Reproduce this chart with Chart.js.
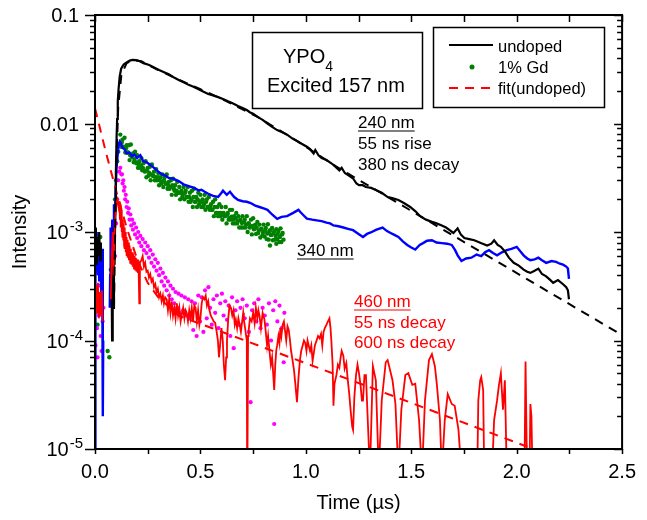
<!DOCTYPE html>
<html><head><meta charset="utf-8">
<script src="https://cdn.jsdelivr.net/npm/chart.js@4.4.0/dist/chart.umd.min.js"></script>
<style>html,body{margin:0;padding:0;background:#fff}</style>
</head><body>
<canvas id="c" width="647" height="520"></canvas>
<script>
// ---------- data (time in µs, intensity) ----------
const xTickValues = [0, 0.5, 1.0, 1.5, 2.0, 2.5];
const xTickLabels = ['0.0', '0.5', '1.0', '1.5', '2.0', '2.5'];
const yTickValues = [1e-5, 1e-4, 1e-3, 0.01, 0.1];
const yTickLabels = ['10^-5', '10^-4', '10^-3', '0.01', '0.1'];

// 240 nm, undoped (black solid)
const undoped240 = [[0,7e-4],[0.004,1.1e-3],[0.008,5e-4],[0.012,9e-4],[0.016,6e-4],[0.020,1.0e-3],[0.024,5.5e-4],[0.028,8e-4],[0.050,null],
[0.078,6e-4],[0.081,1.0e-4],[0.084,8e-4],[0.087,2e-4],[0.090,1.1e-3],[0.093,5e-4],[0.096,1.6e-3],[0.099,3.5e-3],[0.102,7e-3],[0.105,0.011],[0.108,0.016],[0.112,0.021],[0.117,0.027],[0.124,0.032],[0.136,0.035],[0.150,0.0365],[0.165,0.038],[0.178,0.0385],[0.195,0.0384],[0.210,0.0377],[0.230,0.036],[0.257,0.0346],[0.280,0.0328],[0.304,0.0311],[0.325,0.0298],[0.350,0.0284],[0.375,0.0265],[0.397,0.0252],[0.420,0.0240],[0.444,0.0227],[0.467,0.0218],[0.491,0.0207],[0.515,0.0196],[0.537,0.0187],[0.560,0.0181],[0.584,0.0175],[0.607,0.0168],[0.631,0.0160],[0.655,0.0153],[0.678,0.0145],[0.700,0.0139],[0.720,0.0133],[0.734,0.0127],[0.750,0.0123],[0.771,0.0115],[0.795,0.0108],[0.818,0.0100],[0.840,0.0093],[0.864,0.0087],[0.888,0.0083],[0.911,0.0079],[0.935,0.0073],[0.958,0.0069],[0.980,0.0065],[1.005,0.0061],[1.020,0.0058],[1.037,0.0053],[1.045,0.0057],[1.060,0.0051],[1.075,0.0048],[1.098,0.0046],[1.121,0.0043],[1.140,0.0040],[1.159,0.0037],[1.170,0.0039],[1.185,0.0035],[1.206,0.0033],[1.225,0.0031],[1.240,0.0028],[1.252,0.0027],[1.270,0.0027],[1.285,0.0026],[1.310,0.00255],[1.332,0.00244],[1.360,0.0023],[1.388,0.0021],[1.410,0.00205],[1.439,0.00197],[1.465,0.00185],[1.495,0.0017],[1.520,0.00155],[1.542,0.0014],[1.570,0.0013],[1.598,0.00124],[1.620,0.0012],[1.645,0.00115],[1.665,0.0011],[1.682,0.00104],[1.700,0.00098],[1.720,0.00108],[1.735,0.00095],[1.752,0.00088],[1.775,0.00086],[1.799,0.00084],[1.830,0.00079],[1.860,0.00075],[1.880,0.00078],[1.893,0.00084],[1.910,0.00076],[1.925,0.00073],[1.945,0.00066],[1.963,0.00058],[1.986,0.00052],[2.010,0.00049],[2.033,0.00045],[2.050,0.00043],[2.065,0.00042],[2.085,0.00044],[2.103,0.00046],[2.120,0.00041],[2.140,0.00039],[2.160,0.00036],[2.173,0.00034],[2.196,0.00036],[2.220,0.00033],[2.235,0.00031],[2.243,0.00029],[2.248,0.00024]];

// 340 nm (blue solid)
const band340 = [[0,3e-6],[0.002,7e-4],[0.005,1.0e-3],[0.008,5e-4],[0.011,8e-4],[0.014,4e-4],[0.017,9e-4],[0.020,3.5e-4],[0.025,6e-4],[0.030,2.5e-4],[0.034,7e-4],[0.037,2e-5],[0.039,1e-4],[0.050,null],
[0.070,2e-4],[0.072,4e-4],[0.074,1.1e-3],[0.078,6e-4],[0.082,1.3e-3],[0.086,8e-4],[0.090,1.8e-3],[0.094,1.2e-3],[0.098,2.5e-3],[0.102,3.8e-3],[0.107,5e-3],[0.112,6.3e-3],[0.118,6.8e-3],[0.124,6.5e-3],[0.130,6.0e-3],[0.140,5.8e-3],[0.150,5.3e-3],[0.164,5.4e-3],[0.175,5.0e-3],[0.187,5.2e-3],[0.200,4.8e-3],[0.215,5.1e-3],[0.228,4.5e-3],[0.243,4.4e-3],[0.260,4.2e-3],[0.280,3.9e-3],[0.300,3.6e-3],[0.318,3.4e-3],[0.335,3.3e-3],[0.350,3.15e-3],[0.370,3.1e-3],[0.397,2.95e-3],[0.420,2.75e-3],[0.444,2.65e-3],[0.470,2.55e-3],[0.491,2.42e-3],[0.505,2.45e-3],[0.520,2.35e-3],[0.537,2.25e-3],[0.560,2.15e-3],[0.584,2.1e-3],[0.600,2.3e-3],[0.607,2.4e-3],[0.625,2.2e-3],[0.640,2.35e-3],[0.660,2.1e-3],[0.678,1.98e-3],[0.700,1.92e-3],[0.720,1.9e-3],[0.738,1.85e-3],[0.760,1.75e-3],[0.780,1.7e-3],[0.800,1.65e-3],[0.818,1.6e-3],[0.840,1.45e-3],[0.864,1.32e-3],[0.885,1.38e-3],[0.911,1.4e-3],[0.940,1.5e-3],[0.965,1.6e-3],[0.975,1.52e-3],[0.990,1.42e-3],[1.005,1.33e-3],[1.030,1.3e-3],[1.051,1.28e-3],[1.075,1.26e-3],[1.098,1.22e-3],[1.115,1.2e-3],[1.131,1.15e-3],[1.155,1.13e-3],[1.178,1.1e-3],[1.200,1.07e-3],[1.224,1.04e-3],[1.250,9.6e-4],[1.271,9.0e-4],[1.290,9.6e-4],[1.308,9.9e-4],[1.335,1.05e-3],[1.364,1.1e-3],[1.385,1.02e-3],[1.402,9.8e-4],[1.420,9.4e-4],[1.439,9.0e-4],[1.460,8.2e-4],[1.481,7.6e-4],[1.500,7.2e-4],[1.519,6.9e-4],[1.540,7.6e-4],[1.556,7.9e-4],[1.575,8.3e-4],[1.598,8.4e-4],[1.620,8.0e-4],[1.645,7.9e-4],[1.670,7.8e-4],[1.692,7.6e-4],[1.708,6.8e-4],[1.720,6.1e-4],[1.738,5.4e-4],[1.760,5.7e-4],[1.785,5.8e-4],[1.810,6.2e-4],[1.832,6.0e-4],[1.850,6.5e-4],[1.869,6.8e-4],[1.888,6.4e-4],[1.907,6.1e-4],[1.930,6.5e-4],[1.953,6.8e-4],[1.975,7.0e-4],[2.000,7.3e-4],[2.018,6.6e-4],[2.033,6.1e-4],[2.050,5.7e-4],[2.065,5.5e-4],[2.085,5.6e-4],[2.103,5.8e-4],[2.120,5.5e-4],[2.140,5.2e-4],[2.165,5.4e-4],[2.187,5.3e-4],[2.205,5.1e-4],[2.220,5.0e-4],[2.235,4.8e-4],[2.243,4.6e-4],[2.248,3.7e-4]];

// 460 nm (red solid)
const band460 = [[0.003,2.0e-4],[0.006,3.2e-4],[0.010,1.8e-4],[0.014,3.4e-4],[0.018,1.6e-4],[0.023,2.8e-4],[0.028,1.7e-4],[0.033,2.9e-4],[0.036,1.5e-4],[0.050,null],
[0.075,2.4e-4],[0.079,6e-4],[0.084,1.0e-3],[0.088,4e-4],[0.093,1.2e-3],[0.098,1.5e-3],[0.103,1.9e-3],[0.107,2.0e-3],[0.112,1.7e-3],[0.116,1.9e-3],[0.118,1.3e-3],[0.120,1.8e-3],[0.122,1.1e-3],[0.124,1.6e-3],[0.126,1.0e-3],[0.128,1.4e-3],[0.130,9e-4],[0.132,1.3e-3],[0.134,8.5e-4],[0.136,1.2e-3],[0.138,7.5e-4],[0.140,1.1e-3],[0.142,7e-4],[0.144,1.0e-3],[0.146,6.5e-4],[0.148,9e-4],[0.150,6e-4],[0.152,8.5e-4],[0.155,5.8e-4],[0.158,8e-4],[0.161,5.5e-4],[0.164,7.5e-4],[0.167,5.2e-4],[0.170,7e-4],[0.173,5e-4],[0.176,6.5e-4],[0.179,4.8e-4],[0.182,6.3e-4],[0.185,4.6e-4],[0.188,6e-4],[0.191,4.5e-4],[0.194,5.8e-4],[0.197,4.3e-4],[0.200,5.6e-4],[0.203,4.2e-4],[0.206,5.5e-4],[0.210,2.2e-4],[0.213,5.2e-4],[0.220,5.5e-4],[0.226,6.0e-4],[0.232,4.8e-4],[0.238,5.2e-4],[0.244,4.3e-4],[0.250,4.4e-4],[0.256,3.8e-4],[0.262,4.1e-4],[0.268,3.5e-4],[0.274,3.7e-4],[0.280,3.1e-4],[0.286,3.3e-4],[0.292,2.8e-4],[0.298,3.0e-4],[0.304,2.5e-4],[0.310,2.7e-4],[0.316,2.3e-4],[0.322,2.6e-4],[0.327,2.2e-4],[0.333,2.5e-4],[0.340,2.4e-4],[0.346,1.9e-4],[0.352,2.4e-4],[0.358,1.8e-4],[0.364,2.3e-4],[0.370,1.7e-4],[0.376,2.0e-4],[0.382,1.6e-4],[0.388,2.2e-4],[0.394,1.7e-4],[0.400,2.0e-4],[0.406,1.5e-4],[0.411,1.7e-4],[0.418,2.0e-4],[0.424,1.6e-4],[0.430,1.9e-4],[0.435,1.8e-4],[0.441,1.5e-4],[0.447,1.9e-4],[0.453,1.6e-4],[0.459,2.0e-4],[0.465,1.5e-4],[0.471,2.1e-4],[0.477,2.0e-4],[0.483,1.5e-4],[0.489,1.9e-4],[0.495,1.4e-4],[0.500,1.6e-4],[0.506,2.2e-4],[0.512,2.5e-4],[0.519,2.4e-4],[0.525,2.6e-4],[0.531,2.1e-4],[0.537,2.3e-4],[0.543,1.9e-4],[0.549,1.7e-4],[0.556,1.6e-4],[0.563,1.5e-4],[0.570,1.45e-4],[0.577,1.2e-4],[0.583,1.0e-4],[0.588,7e-5],[0.593,8.9e-5],[0.600,1.3e-4],[0.606,1.0e-4],[0.611,6e-5],[0.617,4.3e-5],[0.622,7e-5],[0.626,1.0e-4],[0.632,1.6e-4],[0.638,2.1e-4],[0.645,2.0e-4],[0.651,1.7e-4],[0.657,1.9e-4],[0.663,1.4e-4],[0.668,1.55e-4],[0.674,1.3e-4],[0.680,1.6e-4],[0.686,1.4e-4],[0.692,1.2e-4],[0.698,1.5e-4],[0.703,1.8e-4],[0.706,1.55e-4],[0.712,1.3e-4],[0.717,1.1e-4],[0.720,1.0e-4],[0.722,3e-6],[0.726,1.1e-4],[0.729,1.25e-4],[0.735,1.6e-4],[0.743,1.5e-4],[0.750,1.8e-4],[0.757,1.45e-4],[0.763,2.0e-4],[0.770,1.6e-4],[0.775,1.9e-4],[0.780,1.7e-4],[0.787,1.3e-4],[0.795,1.8e-4],[0.804,1.55e-4],[0.810,1.2e-4],[0.816,9e-5],[0.821,1.1e-4],[0.827,8.2e-5],[0.834,6e-5],[0.840,7e-5],[0.845,5e-5],[0.850,3.5e-5],[0.855,6e-5],[0.860,8.2e-5],[0.864,9e-5],[0.870,1.1e-4],[0.875,9.5e-5],[0.879,1.3e-4],[0.884,1.1e-4],[0.890,1.4e-4],[0.896,1.5e-4],[0.902,1.2e-4],[0.907,1.0e-4],[0.913,1.35e-4],[0.919,1.25e-4],[0.925,1.0e-4],[0.930,8e-5],[0.935,7e-5],[0.944,5.3e-5],[0.950,4e-5],[0.958,2.7e-5],[0.965,4.5e-5],[0.972,6.6e-5],[0.978,8e-5],[0.985,9e-5],[0.991,1.0e-4],[0.997,9.5e-5],[1.003,8e-5],[1.008,1.0e-4],[1.014,8.9e-5],[1.020,8e-5],[1.026,9e-5],[1.032,6.5e-5],[1.037,7.5e-5],[1.043,9e-5],[1.051,1.0e-4],[1.058,1.1e-4],[1.065,1.05e-4],[1.072,1.15e-4],[1.078,9e-5],[1.084,1.2e-4],[1.090,1.3e-4],[1.098,1.4e-4],[1.105,1.5e-4],[1.112,1.6e-4],[1.117,1.3e-4],[1.121,1.0e-4],[1.127,6e-5],[1.131,2.5e-5],[1.136,4e-5],[1.145,4.8e-5],[1.152,6e-5],[1.159,5.6e-5],[1.165,7e-5],[1.170,8e-5],[1.178,7.2e-5],[1.184,5.5e-5],[1.192,6.2e-5],[1.198,4.5e-5],[1.206,3.2e-5],[1.213,2.2e-5],[1.220,1.6e-5],[1.224,1.5e-5],[1.230,3e-5],[1.238,4.8e-5],[1.245,6e-5],[1.252,5.0e-5],[1.260,3.8e-5],[1.266,2.8e-5],[1.271,2.8e-5],[1.278,4.8e-5],[1.285,4.8e-5],[1.304,6e-6],[1.318,5.8e-5],[1.332,4.3e-5],[1.346,6e-6],[1.360,2.8e-5],[1.379,6.3e-5],[1.388,6.6e-5],[1.411,4.3e-5],[1.425,2.6e-5],[1.439,6e-6],[1.453,2.3e-5],[1.472,4.8e-5],[1.486,5.0e-5],[1.505,3.9e-5],[1.519,4.0e-5],[1.537,1.85e-5],[1.551,6e-6],[1.565,2.8e-5],[1.584,6.6e-5],[1.598,7.5e-5],[1.612,5.8e-5],[1.621,4.0e-5],[1.636,1.85e-5],[1.645,6e-6],[1.659,1.85e-5],[1.673,3.2e-5],[1.692,2.6e-5],[1.706,2.5e-5],[1.724,1.5e-5],[1.738,6e-6],[1.813,6e-6],[1.818,2.8e-5],[1.827,4.3e-5],[1.832,4.6e-5],[1.841,3.5e-5],[1.846,6e-6],[1.883,6e-6],[1.893,1.85e-5],[1.907,2.8e-5],[1.916,3.9e-5],[1.925,5.0e-5],[1.935,2.3e-5],[1.944,4.3e-5],[1.953,6e-6],[2.037,6e-6],[2.042,6.4e-5],[2.047,1.2e-5],[2.051,6e-6],[2.061,6e-6],[2.065,2.6e-5],[2.070,2.0e-5],[2.075,6e-6]];

// 1% Gd (green dots)
const gd1 = [[0.005,2.2e-4],[0.010,5.5e-4],[0.012,1.4e-4],[0.015,8e-4],[0.020,6.5e-4],[0.022,4.5e-4],[0.025,9e-4],[0.030,2.0e-4],[0.060,8e-5],[0.068,7e-5],[0.075,4.5e-4],[0.080,3.5e-4],[0.085,5e-4],[0.090,1.1e-3],[0.095,2.0e-3],[0.100,3.0e-3],[0.105,4.5e-3],[0.110,5.5e-3],[0.115,6.5e-3],
[0.120,0.0079],[0.124,0.0061],[0.130,0.0071],[0.134,0.0061],[0.140,0.0074],[0.144,0.0054],[0.150,0.0063],[0.154,0.0054],[0.160,0.0063],[0.164,0.0046],[0.170,0.0064],[0.174,0.0050],[0.180,0.0053],[0.184,0.0044],[0.190,0.0055],[0.194,0.0044],[0.200,0.0051],[0.204,0.0039],[0.210,0.0045],[0.214,0.0039],[0.220,0.0048],[0.224,0.0037],[0.230,0.0043],[0.234,0.0037],[0.240,0.0045],[0.244,0.0032],[0.250,0.0039],[0.254,0.0033],[0.260,0.0040],[0.264,0.0030],[0.270,0.0042],[0.274,0.0033],[0.280,0.0036],[0.284,0.0030],[0.290,0.0038],[0.294,0.0030],[0.300,0.0035],[0.304,0.0027],[0.310,0.0032],[0.314,0.0028],[0.320,0.0034],[0.324,0.0026],[0.330,0.0032],[0.334,0.0028],[0.340,0.0034],[0.344,0.0025],[0.350,0.0029],[0.354,0.0025],[0.360,0.0030],[0.364,0.0022],[0.370,0.0031],[0.374,0.0025],[0.380,0.0027],[0.384,0.0022],[0.390,0.0029],[0.394,0.0023],[0.400,0.0026],[0.404,0.0020],[0.410,0.0024],[0.414,0.0021],[0.420,0.0026],[0.424,0.0020],[0.430,0.0024],[0.434,0.0021],[0.440,0.0026],[0.444,0.0019],[0.450,0.0023],[0.454,0.0019],[0.460,0.0024],[0.464,0.0017],[0.470,0.0025],[0.474,0.0019],[0.480,0.0021],[0.484,0.0017],[0.490,0.0023],[0.494,0.0018],[0.500,0.0022],[0.504,0.0017],[0.510,0.0020],[0.514,0.0017],[0.520,0.0022],[0.524,0.0016],[0.530,0.0020],[0.534,0.0017],[0.540,0.0021],[0.544,0.0016],[0.550,0.0018],[0.554,0.0016],[0.560,0.0019],[0.564,0.0014],[0.570,0.0020],[0.574,0.0015],[0.580,0.0017],[0.584,0.0014],[0.590,0.0018],[0.594,0.0014],[0.600,0.0017],[0.604,0.0013],[0.610,0.0015],[0.614,0.0014],[0.620,0.0017],[0.624,0.0012],[0.630,0.0015],[0.634,0.0013],[0.640,0.0016],[0.644,0.0013],[0.650,0.0016],[0.654,0.0012],[0.660,0.0014],[0.664,0.0012],[0.670,0.0015],[0.674,0.0012],[0.680,0.0014],[0.684,0.0011],[0.690,0.0013],[0.694,0.0011],[0.700,0.0014],[0.704,0.0011],[0.710,0.0013],[0.714,0.0011],[0.720,0.0014],[0.724,0.0010],[0.730,0.0012],[0.734,0.0011],[0.740,0.0013],[0.744,0.00095],[0.750,0.00134],[0.754,0.00106],[0.760,0.00117],[0.764,0.00096],[0.770,0.00124],[0.774,0.00098],[0.780,0.00117],[0.784,0.00089],[0.790,0.00107],[0.794,0.00093],[0.800,0.00117],[0.804,0.00091],[0.810,0.00109],[0.814,0.00086],[0.820,0.00118],[0.824,0.00085],[0.830,0.00104],[0.834,0.00094],[0.840,0.00109],[0.844,0.00084],[0.850,0.00101],[0.854,0.00085],[0.860,0.00106],[0.864,0.00086],[0.870,0.00102],[0.874,0.00081],[0.880,0.00108],[0.884,0.00081],[0.890,0.00098],[0.894,0.00085],[0.830,0.00075],[0.860,0.00078],
[0.127,0.0067],[0.137,0.0060],[0.147,0.0059],[0.157,0.0054],[0.167,0.0051],[0.177,0.0049],[0.187,0.0047],[0.197,0.0043],[0.207,0.0042],[0.217,0.0041],[0.227,0.0039],[0.237,0.0036],[0.247,0.0037],[0.257,0.0035],[0.267,0.0034],[0.277,0.0033],[0.287,0.0032],[0.297,0.0032],[0.307,0.0030],[0.317,0.0029],[0.327,0.0030],[0.337,0.0028],[0.347,0.0027],[0.357,0.0026],[0.367,0.0027],[0.377,0.0024],[0.387,0.0024],[0.397,0.0023],[0.407,0.0023],[0.417,0.0022],[0.427,0.0023],[0.437,0.0021],[0.447,0.0021],[0.457,0.0020],[0.467,0.0021],[0.477,0.0019],[0.487,0.0020],[0.497,0.0019],[0.507,0.0019],[0.517,0.0018],[0.527,0.0019],[0.537,0.0017],[0.547,0.0017],[0.557,0.0016],[0.567,0.0017],[0.577,0.0015],[0.587,0.0015],[0.597,0.0015],[0.607,0.00145],[0.617,0.0014],[0.627,0.00145],[0.637,0.00135],[0.647,0.00138],[0.657,0.0013],[0.667,0.00134],[0.677,0.00126],[0.687,0.00128],[0.697,0.00121],[0.707,0.00124],[0.717,0.00117],[0.727,0.0012],[0.737,0.00112],[0.747,0.00114],[0.757,0.00107],[0.767,0.0011],[0.777,0.00103],[0.787,0.00106],[0.797,0.00099],[0.807,0.00103],[0.817,0.00097],[0.827,0.00101],[0.837,0.00094],[0.847,0.00098],[0.857,0.00092],[0.867,0.00096],[0.877,0.0009],[0.887,0.00095]];

// 460 nm second set (magenta dots)
const dots460 = [[0.002,9e-5],[0.006,2.3e-4],[0.009,1.3e-4],[0.012,7e-5],[0.016,3.2e-4],[0.019,1.7e-4],[0.023,2.6e-4],[0.027,1.1e-4],[0.031,8e-5],[0.036,1.5e-4],[0.040,2.0e-4],
[0.085,3.0e-4],[0.095,6e-4],[0.100,1.2e-3],[0.105,2.0e-3],[0.110,3.0e-3],[0.115,3.6e-3],[0.120,3.9e-3],[0.125,3.4e-3],
[0.128,3.4e-3],[0.131,2.8e-3],[0.134,3.0e-3],[0.137,2.4e-3],[0.140,2.6e-3],[0.143,2.0e-3],[0.146,2.2e-3],[0.150,1.7e-3],[0.153,1.9e-3],[0.157,1.5e-3],[0.160,1.65e-3],[0.164,1.3e-3],[0.168,1.45e-3],[0.172,1.15e-3],[0.176,1.3e-3],[0.180,1.05e-3],[0.185,1.2e-3],[0.190,9.5e-4],[0.195,1.1e-3],[0.200,8.8e-4],[0.205,1.0e-3],[0.210,8.0e-4],[0.215,9.2e-4],[0.220,7.4e-4],[0.226,8.6e-4],[0.232,6.8e-4],[0.238,8.0e-4],[0.244,6.4e-4],[0.250,7.4e-4],[0.256,5.8e-4],[0.262,6.8e-4],[0.268,5.2e-4],[0.274,6.2e-4],[0.280,4.8e-4],[0.286,5.6e-4],[0.292,4.4e-4],[0.298,5.2e-4],[0.304,4.0e-4],[0.310,4.6e-4],[0.316,3.5e-4],[0.322,4.2e-4],[0.328,3.2e-4],[0.334,3.8e-4],[0.340,2.9e-4],[0.346,3.5e-4],[0.352,2.6e-4],[0.358,3.2e-4],[0.364,2.4e-4],[0.370,3.0e-4],[0.376,2.2e-4],[0.382,2.8e-4],[0.390,2.0e-4],[0.396,2.7e-4],[0.402,1.8e-4],[0.410,2.6e-4],[0.418,1.9e-4],[0.426,2.5e-4],[0.434,1.7e-4],[0.442,2.4e-4],[0.450,1.6e-4],[0.458,2.3e-4],[0.466,1.25e-4],[0.474,2.2e-4],[0.482,1.1e-4],[0.490,2.6e-4],[0.498,1.5e-4],[0.506,2.5e-4],[0.514,1.2e-4],[0.522,2.9e-4],[0.530,1.6e-4],[0.538,3.1e-4],[0.546,2.0e-4],[0.554,1.4e-4],[0.562,2.4e-4],[0.570,1.8e-4],[0.578,2.6e-4],[0.586,1.3e-4],[0.594,2.2e-4],[0.602,2.7e-4],[0.610,1.7e-4],[0.618,2.3e-4],[0.626,1.55e-4],[0.634,2.1e-4],[0.642,1.1e-4],[0.650,2.5e-4],[0.658,8.5e-5],[0.666,1.9e-4],[0.674,2.3e-4],[0.682,1.4e-4],[0.690,2.0e-4],[0.700,2.4e-4],[0.710,1.6e-4],[0.720,2.1e-4],[0.730,1.2e-4],[0.738,2.7e-5],[0.745,1.9e-4],[0.755,2.2e-4],[0.765,1.5e-4],[0.775,2.4e-4],[0.785,1.3e-4],[0.795,2.0e-4],[0.805,1.7e-4],[0.815,1.4e-4],[0.825,2.2e-4],[0.835,1.0e-4],[0.845,1.9e-4],[0.850,1.7e-5],[0.855,2.3e-4],[0.865,1.5e-4],[0.875,2.1e-4],[0.885,1.3e-4],[0.895,6.3e-5],[0.898,1.8e-4]];

// fits (dashed)
const fitUndopedTime = [0.090, 0.100, 0.110, 0.125, 0.150, 0.180, 0.220, 0.300, 0.400, 0.500, 0.584, 0.771, 0.958, 1.145, 1.332, 2.500];
const fitUndopedIntensity = [2e-4, 3.5e-3, 0.014, 0.028, 0.036, 0.0385, 0.0375, 0.0311, 0.0252, 0.0207, 0.0175, 0.0115, 0.0069, 0.0040, 0.00244, 1.12e-4];
const fit460Time = [0, 0.05, 0.10, 0.15, 0.20, 0.25, 0.30, 0.40, 0.55, 1.33, 2.05];
const fit460Intensity = [0.0138, 0.0056, 0.0024, 0.0011, 5.6e-4, 3.4e-4, 2.5e-4, 1.68e-4, 1.31e-4, 3.55e-5, 1.05e-5];

// ---------- chart ----------
const FONT = '"Liberation Sans", Arial, Helvetica, sans-serif';
const pairs = a => a.map(p => ({x: p[0], y: p[1]}));
const zipPts = (T, V) => T.map((t, i) => ({x: t, y: V[i]}));

const decor = {
  id: 'decor',
  afterDraw(chart) {
    const {ctx, chartArea: a, scales: {x, y}} = chart;
    ctx.save();
    ctx.strokeStyle = '#000';
    ctx.fillStyle = '#000';
    const line = (x1, y1, x2, y2) => { ctx.beginPath(); ctx.moveTo(x1, y1); ctx.lineTo(x2, y2); ctx.stroke(); };
    // frame
    ctx.lineWidth = 2;
    ctx.strokeRect(a.left, a.top, a.right - a.left, a.bottom - a.top);
    // x ticks
    ctx.lineWidth = 1.5;
    for (let v = 0; v <= 2.5001; v += 0.25) {
      const px = Math.round(x.getPixelForValue(v)) + 0.5;
      line(px, a.bottom, px, a.bottom + 5);
      line(px, a.top, px, a.top + 7);
    }
    // y ticks
    for (let e = -5; e <= -1; e++) {
      for (let m = 1; m <= 9; m++) {
        const v = m * Math.pow(10, e);
        if (v > 0.1000001) break;
        const py = Math.round(y.getPixelForValue(v)) + 0.5;
        const L = m === 1 ? 10 : 5;
        line(a.left - L, py, a.left, py);
        line(a.right, py, a.right - (m === 1 ? 8 : 5), py);
      }
    }
    // y tick labels
    ctx.textAlign = 'right';
    ctx.textBaseline = 'alphabetic';
    yTickValues.forEach((v, i) => {
      const py = y.getPixelForValue(v);
      const lab = yTickLabels[i];
      if (lab.indexOf('^') >= 0) {
        const [b, ex] = lab.split('^');
        ctx.font = '15px ' + FONT;
        const ew = ctx.measureText(ex).width;
        ctx.fillText(ex, 83, py - 1);
        ctx.font = '20px ' + FONT;
        ctx.fillText(b, 83 - ew - 1, py + 7);
      } else {
        ctx.font = '20px ' + FONT;
        ctx.fillText(lab, 79, py + 7);
      }
    });
    // sample box
    ctx.textAlign = 'left';
    ctx.lineWidth = 1.5;
    ctx.strokeRect(252.5, 32.5, 170, 76);
    ctx.font = '20px ' + FONT;
    ctx.fillText('YPO', 283, 63);
    const w = ctx.measureText('YPO').width;
    ctx.font = '14px ' + FONT;
    ctx.fillText('4', 283 + w, 71);
    ctx.font = '20px ' + FONT;
    ctx.fillText('Excited 157 nm', 267, 92);
    // legend
    ctx.strokeRect(433.5, 27.5, 171, 80);
    ctx.lineWidth = 2;
    line(449, 45, 493, 45);
    ctx.fillStyle = '#008000';
    ctx.beginPath(); ctx.arc(472, 67, 2.5, 0, Math.PI * 2); ctx.fill();
    ctx.strokeStyle = '#ff0000';
    ctx.setLineDash([9, 7]);
    line(449, 88, 493, 88);
    ctx.setLineDash([]);
    ctx.fillStyle = '#000';
    ctx.font = '16.5px ' + FONT;
    ctx.fillText('undoped', 498, 52);
    ctx.fillText('1% Gd', 498, 73);
    ctx.fillText('fit(undoped)', 498, 94);
    // annotations
    const note = (lines, x0, y0, color, dy) => {
      ctx.fillStyle = color; ctx.strokeStyle = color; ctx.font = '17px ' + FONT; ctx.lineWidth = 1.2;
      lines.forEach((t, i) => {
        ctx.fillText(t, x0, y0 + i * dy);
        if (i === 0) { const tw = ctx.measureText(t).width; line(x0, y0 + 3, x0 + tw, y0 + 3); }
      });
    };
    note(['240 nm', '55 ns rise', '380 ns decay'], 358, 128, '#000', 21);
    note(['340 nm'], 297, 256, '#000', 21);
    note(['460 nm', '55 ns decay', '600 ns decay'], 354, 307, '#ff0000', 20.5);
    ctx.restore();
  }
};

new Chart(document.getElementById('c'), {
  type: 'scatter',
  data: {
    datasets: [
      {label: 'fit(undoped)', data: zipPts(fitUndopedTime, fitUndopedIntensity), showLine: true, borderColor: '#000', borderDash: [9, 7], borderWidth: 2, pointRadius: 0, order: 0},
      {label: 'fit 460 nm', data: zipPts(fit460Time, fit460Intensity), showLine: true, borderColor: '#ff0000', borderDash: [9, 7], borderWidth: 2, pointRadius: 0, order: 1},
      {label: '460 nm', data: pairs(band460), showLine: true, borderColor: '#ff0000', borderWidth: 1.8, pointRadius: 0, order: 2},
      {label: 'undoped', data: pairs(undoped240), showLine: true, borderColor: '#000', borderWidth: 2.2, pointRadius: 0, order: 3},
      {label: '340 nm', data: pairs(band340), showLine: true, borderColor: '#0000ff', borderWidth: 2.4, pointRadius: 0, order: 4},
      {label: '460 nm dots', data: pairs(dots460), showLine: false, pointRadius: 2.1, pointBorderWidth: 0, backgroundColor: '#ff00ff', borderColor: '#ff00ff', order: 5},
      {label: '1% Gd', data: pairs(gd1), showLine: false, pointRadius: 2.2, pointBorderWidth: 0, backgroundColor: '#008000', borderColor: '#008000', order: 6}
    ]
  },
  options: {
    responsive: false,
    animation: false,
    layout: {padding: {left: 0, right: 17, top: 15, bottom: 0}},
    plugins: {legend: {display: false}, tooltip: {enabled: false}},
    elements: {line: {tension: 0}},
    scales: {
      x: {
        type: 'linear', min: 0, max: 2.5,
        afterBuildTicks: s => { s.ticks = xTickValues.map(v => ({value: v})); },
        afterFit: s => { s.height = 71; },
        grid: {display: false, drawTicks: false},
        border: {display: false},
        ticks: {color: '#000', font: {family: FONT, size: 20}, padding: 11, maxRotation: 0,
                callback: (v, i) => xTickLabels[i]},
        title: {display: true, text: 'Time (µs)', color: '#000', font: {family: FONT, size: 20}, padding: {top: 0, bottom: 5}}
      },
      y: {
        type: 'logarithmic', min: 1e-5, max: 0.1,
        afterFit: s => { s.width = 95; },
        grid: {display: false, drawTicks: false},
        border: {display: false},
        ticks: {display: false},
        title: {display: true, text: 'Intensity', color: '#000', font: {family: FONT, size: 20}, padding: {top: 8, bottom: 0}}
      }
    }
  },
  plugins: [decor]
});
</script>
</body></html>
